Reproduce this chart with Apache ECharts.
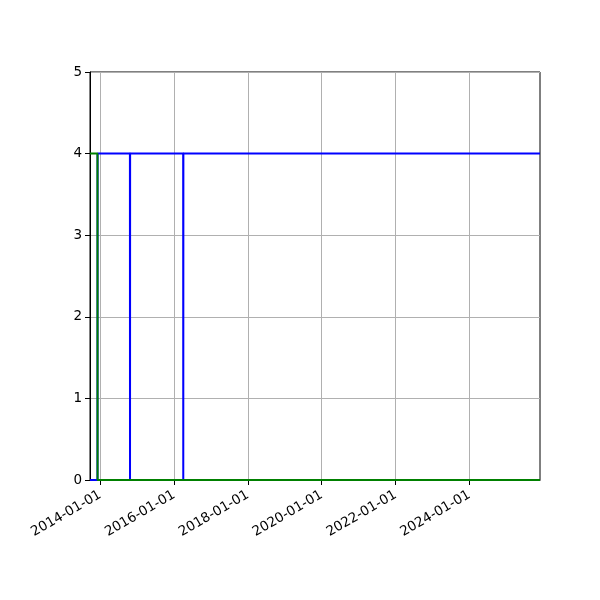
<!DOCTYPE html>
<html>
<head>
<meta charset="utf-8">
<script src="https://cdn.jsdelivr.net/npm/echarts@6/dist/echarts.min.js"></script>
<style>html,body{margin:0;padding:0;background:#fff}#c{width:600px;height:600px}</style>
</head>
<body>
<div id="c"></div>
<script>
var xRange = ['2013-09-21', '2025-11-30'];
var xTickLabels = ['2014-01-01', '2016-01-01', '2018-01-01', '2020-01-01', '2022-01-01', '2024-01-01'];
var yTicks = [0, 1, 2, 3, 4, 5];
var blueDates = ['2013-09-21', '2013-12-04', '2013-12-05', '2014-10-21', '2014-10-22', '2014-10-23', '2016-03-31', '2016-04-01', '2016-04-02', '2025-11-30'];
var blueValues = [0, 0, 4, 4, 0, 4, 4, 0, 4, 4];
var greenDates = ['2013-09-21', '2013-12-04', '2013-12-05', '2025-11-30'];
var greenValues = [4, 4, 0, 0];

function ts(s) { return echarts.number.parseDate(s).getTime(); }
function zip(d, v) { return d.map(function (x, i) { return [ts(x), v[i]]; }); }

var chart = echarts.init(document.getElementById('c'), null, { renderer: 'canvas' });
var font = 'DejaVu Sans';
var tickVals = xTickLabels.map(ts);
chart.setOption({
  animation: false,
  backgroundColor: '#fff',
  grid: { left: 90, right: 60, top: 72, bottom: 120, show: true, borderColor: '#000', borderWidth: 1, containLabel: false },
  xAxis: {
    type: 'value',
    min: ts(xRange[0]),
    max: ts(xRange[1]),
    axisLine: { show: true, onZero: false, lineStyle: { color: '#000', width: 1 } },
    axisTick: { show: true, length: 5, lineStyle: { color: '#000' }, customValues: tickVals },
    axisLabel: {
      customValues: tickVals,
      rotate: 30, fontFamily: font, fontSize: 13.5, color: '#000', margin: 14,
      formatter: function (v) { return echarts.time.format(v, '{yyyy}-{MM}-{dd}', false); }
    },
    splitLine: { show: true, lineStyle: { color: '#b0b0b0', width: 1 } }
  },
  yAxis: {
    type: 'value', min: yTicks[0], max: yTicks[yTicks.length - 1], interval: 1,
    axisLine: { show: true, lineStyle: { color: '#000', width: 1 } },
    axisTick: { show: true, length: 5, lineStyle: { color: '#000' } },
    axisLabel: { fontFamily: font, fontSize: 13.5, color: '#000', margin: 8 },
    splitLine: { show: true, lineStyle: { color: '#b0b0b0', width: 1 } }
  },
  series: [
    { type: 'line', data: zip(blueDates, blueValues), symbol: 'none', lineStyle: { color: '#0000ff', width: 2 }, z: 2 },
    { type: 'line', data: zip(greenDates, greenValues), symbol: 'none', lineStyle: { color: '#008000', width: 2 }, z: 3 }
  ]
});
</script>
</body>
</html>
